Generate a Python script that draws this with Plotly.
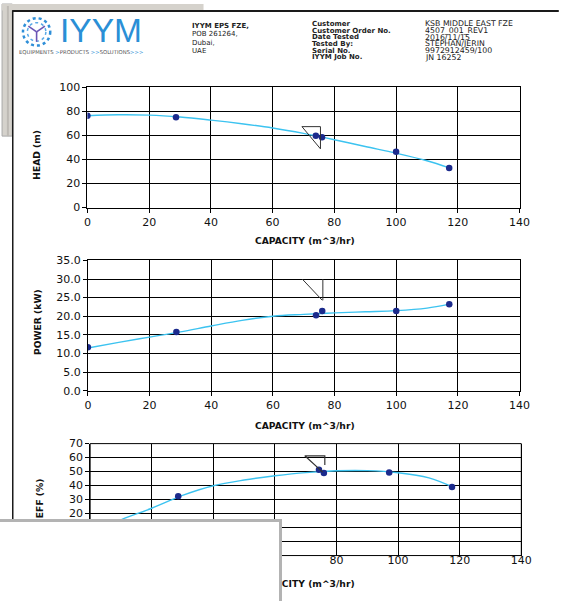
import plotly.graph_objects as go

W, H = 562, 601

# ---------------- data ----------------
capacity = [0, 28.7, 74.0, 76.0, 100.0, 117.2]
head = [76.4, 75.2, 59.8, 58.5, 46.4, 33.0]
power = [11.7, 15.8, 20.3, 21.4, 21.4, 23.2]
capacity_eff = [0, 28.6, 74.3, 75.9, 97.1, 117.5]
eff = [0, 32.4, 51.3, 49.0, 49.4, 39.0]

curve_x = [0, 10, 20, 30, 40, 50, 60, 70, 80, 90, 100, 110, 117]
head_curve = [76.5, 77.3, 77.0, 75.4, 72.8, 69.8, 66.3, 61.8, 56.5, 50.8, 45.3, 39.0, 33.2]
power_curve = [11.5, 13.0, 14.4, 15.8, 17.4, 18.9, 20.0, 20.5, 20.9, 21.2, 21.5, 22.2, 23.2]
eff_curve_x = [0, 10, 20, 30, 40, 50, 60, 70, 80, 90, 100, 110, 118]
eff_curve = [5, 15.5, 23.8, 33.0, 39.9, 44.0, 47.0, 49.3, 50.6, 50.7, 49.2, 45.5, 38.7]

# duty-point markers drawn on the sheet
head_marker_x = [69.5, 75.5, 75.5, 69.5]
head_marker_y = [67.4, 67.4, 48.9, 67.4]
power_marker_x = [69.5, 76.0, None, 76.2, 76.2]
power_marker_y = [30.0, 24.3, None, 30.0, 24.3]
eff_marker_x = [75.5, 69.7, 76.2, 76.2]
eff_marker_y = [49.6, 61.3, 61.3, 54.7]

x_ticks = [0, 20, 40, 60, 80, 100, 120, 140]
head_ticks = [0, 20, 40, 60, 80, 100]
power_ticks = [0, 5, 10, 15, 20, 25, 30, 35]
eff_ticks = [-10, 0, 10, 20, 30, 40, 50, 60, 70]

x_title = "CAPACITY (m^3/hr)"
y_titles = ["HEAD (m)", "POWER (kW)", "EFF (%)"]

header_left = ["IYYM EPS FZE,", "POB 261264,", "Dubai,", "UAE"]
header_labels = ["Customer", "Customer Order No.", "Date Tested", "Tested By:", "Serial No.", "IYYM Job No."]
header_values = ["KSB MIDDLE EAST FZE", "4507_001_REV1", "2016/11/15", "STEPHAN/JERIN", "9972912459/100", "JN 16252"]

# ---------------- styling ----------------
CURVE = "#3cc3f0"
DOT = "#1b2a8c"
FONT = "DejaVu Sans"


def fx(p):
    return p / W


def fy(p):
    return 1 - p / H


fig = go.Figure()

# head
fig.add_trace(go.Scatter(x=curve_x, y=head_curve, mode="lines", line=dict(color=CURVE, width=1.4, shape="spline"),
                         xaxis="x", yaxis="y", hoverinfo="skip"))
fig.add_trace(go.Scatter(x=capacity, y=head, mode="markers", marker=dict(color=DOT, size=6.5),
                         xaxis="x", yaxis="y"))
fig.add_trace(go.Scatter(x=head_marker_x, y=head_marker_y, mode="lines", line=dict(color="#333333", width=1),
                         xaxis="x", yaxis="y", hoverinfo="skip"))
# power
fig.add_trace(go.Scatter(x=curve_x, y=power_curve, mode="lines", line=dict(color=CURVE, width=1.4, shape="spline"),
                         xaxis="x2", yaxis="y2", hoverinfo="skip"))
fig.add_trace(go.Scatter(x=capacity, y=power, mode="markers", marker=dict(color=DOT, size=6.5),
                         xaxis="x2", yaxis="y2"))
fig.add_trace(go.Scatter(x=power_marker_x, y=power_marker_y, mode="lines", line=dict(color="#333333", width=1),
                         xaxis="x2", yaxis="y2", hoverinfo="skip", connectgaps=False))
# efficiency
fig.add_trace(go.Scatter(x=eff_curve_x, y=eff_curve, mode="lines", line=dict(color=CURVE, width=1.4, shape="spline"),
                         xaxis="x3", yaxis="y3", hoverinfo="skip"))
fig.add_trace(go.Scatter(x=capacity_eff, y=eff, mode="markers", marker=dict(color=DOT, size=6.5),
                         xaxis="x3", yaxis="y3"))
fig.add_trace(go.Scatter(x=eff_marker_x, y=eff_marker_y, mode="lines", line=dict(color="#333333", width=1.2),
                         xaxis="x3", yaxis="y3", hoverinfo="skip"))

axis_common = dict(showgrid=True, gridcolor="black", gridwidth=1, zeroline=False,
                   ticks="outside", ticklen=4, tickcolor="black", tickwidth=1,
                   tickfont=dict(family=FONT, size=11, color="#111"), fixedrange=True)

fig.update_layout(
    width=W, height=H, margin=dict(l=0, r=0, t=0, b=0),
    paper_bgcolor="white", plot_bgcolor="white", showlegend=False,
    xaxis=dict(domain=[fx(85.7), fx(529.7)], anchor="y", range=[0, 140], tickvals=x_ticks,
               showline=True, linecolor="black", mirror=True, **axis_common),
    yaxis=dict(domain=[fy(206), fy(83.3)], anchor="x", range=[0, 100], tickvals=head_ticks,
               showline=True, linecolor="black", mirror=True, **axis_common),
    xaxis2=dict(domain=[fx(86.2), fx(529.7)], anchor="y2", range=[0, 140], tickvals=x_ticks,
                showline=True, linecolor="black", mirror=True, **axis_common),
    yaxis2=dict(domain=[fy(393.3), fy(260)], anchor="x2", range=[0, 35], tickvals=power_ticks,
                tickformat=".1f", showline=True, linecolor="black", mirror=True, **axis_common),
    xaxis3=dict(domain=[fx(88.5), fx(531.5)], anchor="free", position=fy(547.7), range=[0, 140],
                tickvals=x_ticks, showline=False, ticklabelstandoff=4, **axis_common),
    yaxis3=dict(domain=[fy(561.7), fy(447.3)], anchor="x3", range=[-10, 70], tickvals=eff_ticks,
                showline=True, linecolor="black", mirror=True, **axis_common),
)

shapes = []
# eff plot frame
shapes.append(dict(type="rect", xref="x3 domain", yref="y3 domain", x0=0, x1=1, y0=0, y1=1,
                   line=dict(color="black", width=1), layer="above"))
# grey window background at top-left
shapes.append(dict(type="rect", xref="paper", yref="paper", x0=fx(-2), x1=fx(8.5), y0=fy(133), y1=fy(-2),
                   fillcolor="#d5d2cc", line=dict(color="#a8a8a8", width=1), layer="above"))
shapes.append(dict(type="rect", xref="paper", yref="paper", x0=fx(-2), x1=fx(205), y0=fy(4.5), y1=fy(-2),
                   fillcolor="#d5d2cc", line=dict(width=0), layer="above"))
shapes.append(dict(type="line", xref="paper", yref="paper", x0=fx(4), x1=fx(4), y0=fy(133), y1=fy(0),
                   line=dict(color="#bdbab4", width=2), layer="above"))
# document border
shapes.append(dict(type="line", xref="paper", yref="paper", x0=fx(8.5), x1=fx(570), y0=fy(5), y1=fy(5),
                   line=dict(color="#1a1a1a", width=2), layer="above"))
shapes.append(dict(type="line", xref="paper", yref="paper", x0=fx(9), x1=fx(9), y0=fy(610), y1=fy(4.5),
                   line=dict(color="#1a1a1a", width=1.5), layer="above"))
# logo mark
cx, cy = 33.5, 26.5
shapes.append(dict(type="circle", xref="paper", yref="paper", x0=fx(cx - 14), x1=fx(cx + 14),
                   y0=fy(cy + 14), y1=fy(cy - 14), line=dict(color="#2f8fd8", width=2.5, dash="dot"), layer="above"))
shapes.append(dict(type="circle", xref="paper", yref="paper", x0=fx(cx - 9.5), x1=fx(cx + 9.5),
                   y0=fy(cy + 9.5), y1=fy(cy - 9.5), line=dict(color="#5aa9e6", width=1.5, dash="dot"), layer="above"))
for ex, ey in [(cx, cy + 10), (cx - 8.5, cy - 6), (cx + 8.5, cy - 6)]:
    shapes.append(dict(type="line", xref="paper", yref="paper", x0=fx(cx), y0=fy(cy), x1=fx(ex), y1=fy(ey),
                       line=dict(color="#6b55b5", width=1.6), layer="above"))
fig.update_layout(shapes=shapes)

ann = []
# logo text
ann.append(dict(text="IYYM", x=fx(55), y=fy(25.5), xref="paper", yref="paper", xanchor="left", yanchor="middle",
                showarrow=False, font=dict(family="Liberation Sans", size=33.5, color="#2a8fd6")))
ann.append(dict(text="EQUIPMENTS <span style='color:#2a8fd6'>&gt;</span>PRODUCTS "
                     "<span style='color:#2a8fd6'>&gt;&gt;</span>SOLUTIONS<span style='color:#2a8fd6'>&gt;&gt;&gt;</span>",
                x=fx(13), y=fy(47), xref="paper", yref="paper", xanchor="left", yanchor="middle",
                showarrow=False, font=dict(family=FONT, size=5.3, color="#555")))
left_y = [20, 28.5, 38, 46.5]
for i, (t, yy) in enumerate(zip(header_left, left_y)):
    ann.append(dict(text=("<b>%s</b>" % t) if i == 0 else t, x=fx(192.5), y=fy(yy), xref="paper", yref="paper",
                    xanchor="left", yanchor="middle", showarrow=False, borderpad=0,
                    font=dict(family=FONT, size=7, color="#222")))
right_y = [18.3, 25.1, 31.9, 38.8, 45.6, 52.4]
for lab, val, yy in zip(header_labels, header_values, right_y):
    ann.append(dict(text="<b>%s</b>" % lab, x=fx(315.5), y=fy(yy), xref="paper", yref="paper",
                    xanchor="left", yanchor="middle", showarrow=False, borderpad=0,
                    font=dict(family=FONT, size=7, color="#222")))
    ann.append(dict(text=val, x=fx(431.5), y=fy(yy), xref="paper", yref="paper",
                    xanchor="left", yanchor="middle", showarrow=False, borderpad=0,
                    font=dict(family=FONT, size=7.8, color="#222")))
# axis titles
for yy in [239.3, 429, 590.7]:
    ann.append(dict(text="<b>%s</b>" % x_title, x=fx(309), y=fy(yy), xref="paper", yref="paper",
                    xanchor="center", yanchor="middle", showarrow=False,
                    font=dict(family=FONT, size=9.2, color="#111")))
for t, (xx, yy) in zip(y_titles, [(34, 152), (34, 323), (36, 503)]):
    ann.append(dict(text="<b>%s</b>" % t, x=fx(xx), y=fy(yy), xref="paper", yref="paper", textangle=-90,
                    xanchor="center", yanchor="middle", showarrow=False,
                    font=dict(family=FONT, size=9.2, color="#111")))
# overlapping white window at bottom-left (drawn last, on top)
ann.append(dict(text=" ", x=fx(286), y=fy(524), xref="paper", yref="paper", xanchor="right", yanchor="top",
                showarrow=False, width=320, height=100, bgcolor="white", bordercolor="#b3b3b3",
                borderwidth=3, borderpad=0, font=dict(size=10)))
fig.update_layout(annotations=ann)

fig.write_html("out.html", config={"displayModeBar": False},
               post_script="document.body.style.margin='0px';"
                           "document.documentElement.style.overflow='hidden';")
